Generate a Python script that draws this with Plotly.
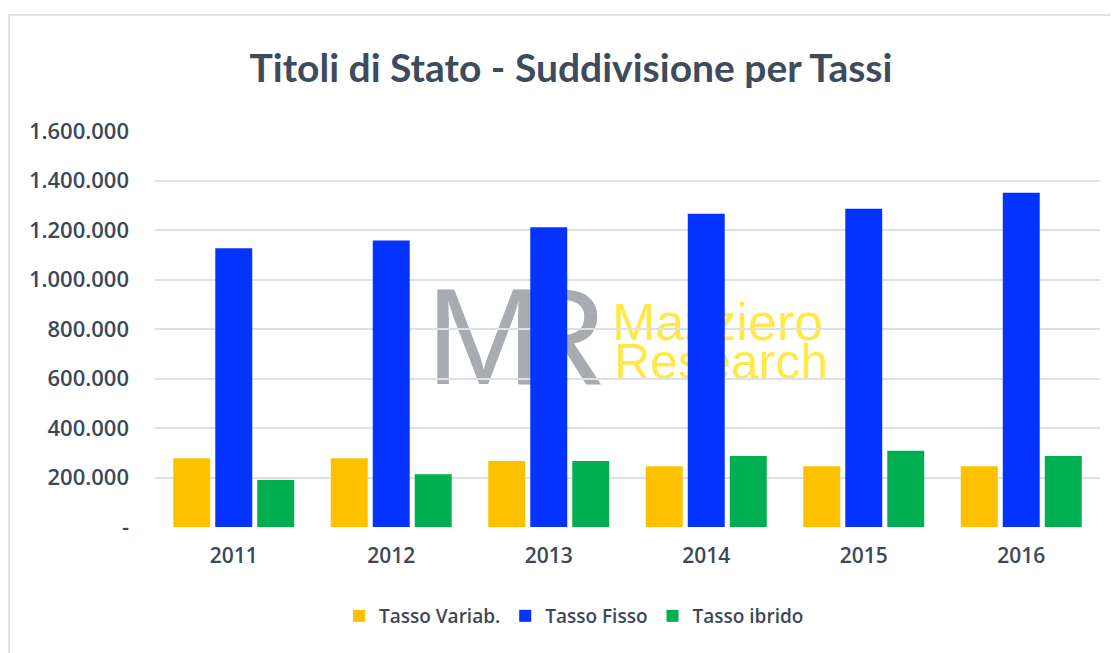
import plotly.graph_objects as go

years = ["2011", "2012", "2013", "2014", "2015", "2016"]
tasso_variab = [278000, 278000, 267000, 245000, 245000, 245000]
tasso_fisso = [1126000, 1158000, 1211000, 1266000, 1286000, 1351000]
tasso_ibrido = [190000, 213000, 267000, 287000, 308000, 287000]

series_names = ["Tasso Variab.", "Tasso Fisso", "Tasso ibrido"]
series_colors = ["#FFC000", "#0433FF", "#00B050"]

y_tickvals = [0, 200000, 400000, 600000, 800000, 1000000, 1200000, 1400000, 1600000]
y_ticktext = ["-", "200.000", "400.000", "600.000", "800.000",
              "1.000.000", "1.200.000", "1.400.000", "1.600.000"]

# the page body adds an 8px offset; work in screen coordinates and compensate
OFF = 8
SW, SH = 1118, 653
W, H = SW - OFF, SH - OFF
# plot area in screen coords
X0, X1, Y0, Y1 = 155, 1100, 131, 527
L, R, T, B = X0 - OFF, SW - X1, Y0 - OFF, SH - Y1
PW, PH = X1 - X0, Y1 - Y0


def px(x):
    return (x - X0) / PW


def py(y):
    return (Y1 - y) / PH


fig = go.Figure()
for name, vals, col in zip(series_names, [tasso_variab, tasso_fisso, tasso_ibrido], series_colors):
    fig.add_trace(go.Bar(x=years, y=vals, name=name, marker=dict(color=col, line=dict(width=0))))

text_col = "#3D4857"
font_main = "Open Sans"

shapes = [
    # outer frame
    dict(type="rect", xref="paper", yref="paper", x0=px(9), x1=px(1140), y0=py(680), y1=py(15),
         line=dict(color="#DDE2E9", width=2), fillcolor="rgba(0,0,0,0)", layer="below"),
    # watermark: M
    dict(type="rect", xref="paper", yref="paper", x0=px(426), x1=px(541), y0=py(380), y1=py(265),
         line=dict(width=0), fillcolor="rgba(0,0,0,0)", layer="below",
         label=dict(text="M", font=dict(family="Liberation Sans", size=138, color="#A8ACB0"),
                    textposition="middle center")),
    # watermark: R
    dict(type="rect", xref="paper", yref="paper", x0=px(515), x1=px(600), y0=py(380), y1=py(265),
         line=dict(width=0), fillcolor="rgba(0,0,0,0)", layer="below",
         label=dict(text="R", font=dict(family="Liberation Sans", size=138, color="#A8ACB0"),
                    textposition="middle center")),
    # watermark: Mazziero
    dict(type="rect", xref="paper", yref="paper", x0=px(606), x1=px(835), y0=py(340), y1=py(294),
         line=dict(width=0), fillcolor="rgba(0,0,0,0)", layer="below",
         label=dict(text="Mazziero", font=dict(family="Liberation Sans", size=52, color="#FFE94A"),
                    textposition="middle left")),
    # watermark: Research
    dict(type="rect", xref="paper", yref="paper", x0=px(608), x1=px(835), y0=py(380), y1=py(334),
         line=dict(width=0), fillcolor="rgba(0,0,0,0)", layer="below",
         label=dict(text="Research", font=dict(family="Liberation Sans", size=50, color="#FFE94A"),
                    textposition="middle left")),
]

fig.update_layout(
    width=W, height=H,
    margin=dict(l=L, r=R, t=T, b=B),
    paper_bgcolor="white", plot_bgcolor="white",
    title=dict(text="<b>Titoli di Stato - Suddivisione per Tassi</b>",
               x=(571 - OFF) / W, xanchor="center", y=1 - (68 - OFF) / H, yanchor="middle",
               font=dict(family="Lato", size=39, color="#3D4B5D")),
    barmode="group", bargap=0.2, bargroupgap=0.12,
    showlegend=True,
    legend=dict(orientation="h", x=px(574), xanchor="center", y=py(616), yanchor="middle",
                font=dict(family=font_main, size=19, color=text_col, weight=600),
                traceorder="normal", itemwidth=30),
    xaxis=dict(showgrid=False, showline=False, zeroline=False, ticks="",
               tickfont=dict(family=font_main, size=21, color=text_col, weight=600),
               ticklabelstandoff=14),
    yaxis=dict(range=[0, 1600000], tickvals=y_tickvals, ticktext=y_ticktext,
               showgrid=True, gridcolor="#DCE1E8", gridwidth=1.6, zeroline=False, showline=False,
               ticks="", tickfont=dict(family=font_main, size=22, color=text_col, weight=600),
               ticklabelstandoff=25),
    shapes=shapes,
)

fig.write_html("out.html")
